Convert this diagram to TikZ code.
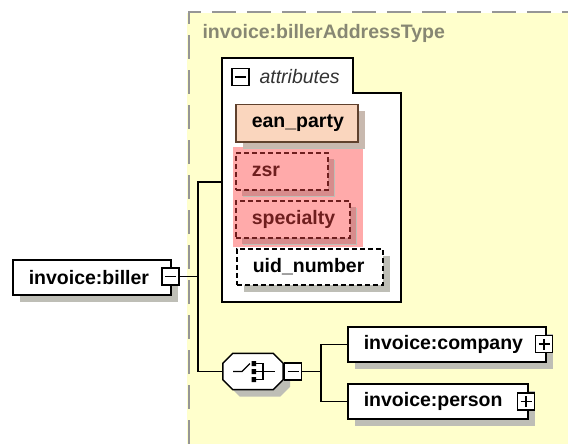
\documentclass[tikz,border=0pt]{standalone}
\usepackage{fontspec}
\setmainfont{Liberation Sans}
\usetikzlibrary{positioning,shadows}

\definecolor{typefill}{RGB}{255,255,204}
\definecolor{typeframe}{RGB}{150,150,150}
\definecolor{typetext}{RGB}{135,135,115}
\definecolor{eanfill}{RGB}{250,214,190}
\definecolor{eanframe}{RGB}{95,65,45}
\definecolor{eanshade}{RGB}{200,185,175}
\definecolor{keyfill}{RGB}{255,170,170}
\definecolor{keyframe}{RGB}{110,30,30}
\definecolor{keyshade}{RGB}{215,140,140}
\definecolor{boxshade}{RGB}{190,190,182}

\tikzset{
  every node/.style={font=\fontsize{19.5}{22}\selectfont\bfseries},
  elem/.style={          % element and attribute boxes
    draw, line width=1.5pt, fill=white, anchor=north west,
    inner xsep=16pt, inner ysep=0pt, align=left,
    drop shadow={shadow xshift=7pt, shadow yshift=-7pt, fill=boxshade, opacity=1}},
  optional/.style={dash pattern=on 5pt off 3pt},
  keyattr/.style={elem, optional, fill=keyfill, draw=keyframe, text=keyframe,
    drop shadow={shadow xshift=6pt, shadow yshift=-6pt, fill=keyshade, opacity=1}},
  pmbox/.style={draw, line width=1.3pt, fill=white, minimum size=17pt, inner sep=0pt},
  collapse/.style={pmbox, path picture={
    \draw[line width=1.3pt] ([xshift=3pt]path picture bounding box.west)
      -- ([xshift=-3pt]path picture bounding box.east);}},
  expand/.style={pmbox, path picture={
    \draw[line width=1.3pt] ([xshift=3pt]path picture bounding box.west)
      -- ([xshift=-3pt]path picture bounding box.east)
      ([yshift=3pt]path picture bounding box.south)
      -- ([yshift=-3pt]path picture bounding box.north);}},
  wire/.style={line width=1.5pt}
}

\begin{document}
\begin{tikzpicture}[x=1pt,y=-1pt]
  \useasboundingbox (0,0) rectangle (568,444);

  % complex type area
  \fill[typefill] (187,13) rectangle (568,444);
  \draw[typeframe, line width=1.5pt, dash pattern=on 24pt off 11pt]
    (189,444) -- (189,12) -- (568,12);
  \node[anchor=west, text=typetext] (typename) at (199,33) {invoice:billerAddressType};

  % attributes group
  \draw[line width=1.5pt, fill=white]
    (222,58) -- (353,58) -- (353,93) -- (401,93) -- (401,302) -- (222,302) -- cycle;
  \coordinate (attrsin) at (222,182);
  \node[collapse] (attrspm) at (240.5,77) {};
  \node[anchor=west, font=\fontsize{19.5}{22}\selectfont\itshape, text=black!80]
    (attrslabel) at (256,77) {attributes};

  \fill[keyfill] (233,147) rectangle (363,247);

  \node[elem, fill=eanfill, draw=eanframe, minimum width=122pt, minimum height=37pt,
    text width=90pt, drop shadow={shadow xshift=7pt, shadow yshift=-6pt, fill=eanshade, opacity=1}]
    (eanparty) at (235,104) {ean\_party};
  \node[keyattr, minimum width=92pt, minimum height=37pt, text width=60pt]
    (zsr) at (235,152) {zsr};
  \node[keyattr, minimum width=114pt, minimum height=37pt, text width=82pt]
    (specialty) at (235,200) {specialty};
  \node[elem, optional, minimum width=146pt, minimum height=36pt, text width=114pt]
    (uidnumber) at (236,248) {uid\_number};

  % element and its content model
  \node[elem, minimum width=158pt, minimum height=35pt, text width=126pt]
    (biller) at (12,259) {invoice:biller};
  \node[collapse] (billerpm) at (170.5,276.5) {};
  \coordinate (junction) at (198,276.5);

  \node[minimum width=60pt, minimum height=36pt, inner sep=0pt] (choice) at (253,371.5) {};
  \draw[line width=1.5pt, fill=white,
    drop shadow={shadow xshift=7pt, shadow yshift=-7pt, fill=boxshade, opacity=1}]
    ([xshift=10pt]choice.north west) -- ([xshift=-10pt]choice.north east)
    -- ([yshift=-10pt]choice.north east) -- ([yshift=10pt]choice.south east)
    -- ([xshift=-10pt]choice.south east) -- ([xshift=10pt]choice.south west)
    -- ([yshift=10pt]choice.south west) -- ([yshift=-10pt]choice.north west) -- cycle;
  \begin{scope}[shift={(choice.center)}, line width=1.3pt]
    \draw (-20,0) -- (-11,0) -- (-3,-8);
    \fill (-1.5,-10.5) rectangle (3,-5.5) (-1.5,-2.5) rectangle (3,2.5) (-1.5,5.5) rectangle (3,10.5);
    \draw (3,-8) -- (10,-8) -- (10,8) -- (3,8) (3,0) -- (22,0);
  \end{scope}
  \node[collapse] (choicepm) at (293,371.5) {};
  \coordinate (fork) at (321,371.5);

  \node[elem, minimum width=198pt, minimum height=35pt, text width=166pt]
    (company) at (347,326) {invoice:company};
  \node[expand] (companypm) at (544,344) {};
  \node[elem, minimum width=180pt, minimum height=35pt, text width=148pt]
    (person) at (347,383) {invoice:person};
  \node[expand] (personpm) at (526,401.5) {};

  % connectors
  \draw[wire] (billerpm.east) -- (junction);
  \draw[wire] (attrsin) -| (junction) |- (choice.west);
  \draw[wire] (choice.east) -- (choicepm.west);
  \draw[wire] (choicepm.east) -- (fork);
  \draw[wire] (fork) |- (company.west);
  \draw[wire] (fork) |- (person.west);
\end{tikzpicture}
\end{document}
